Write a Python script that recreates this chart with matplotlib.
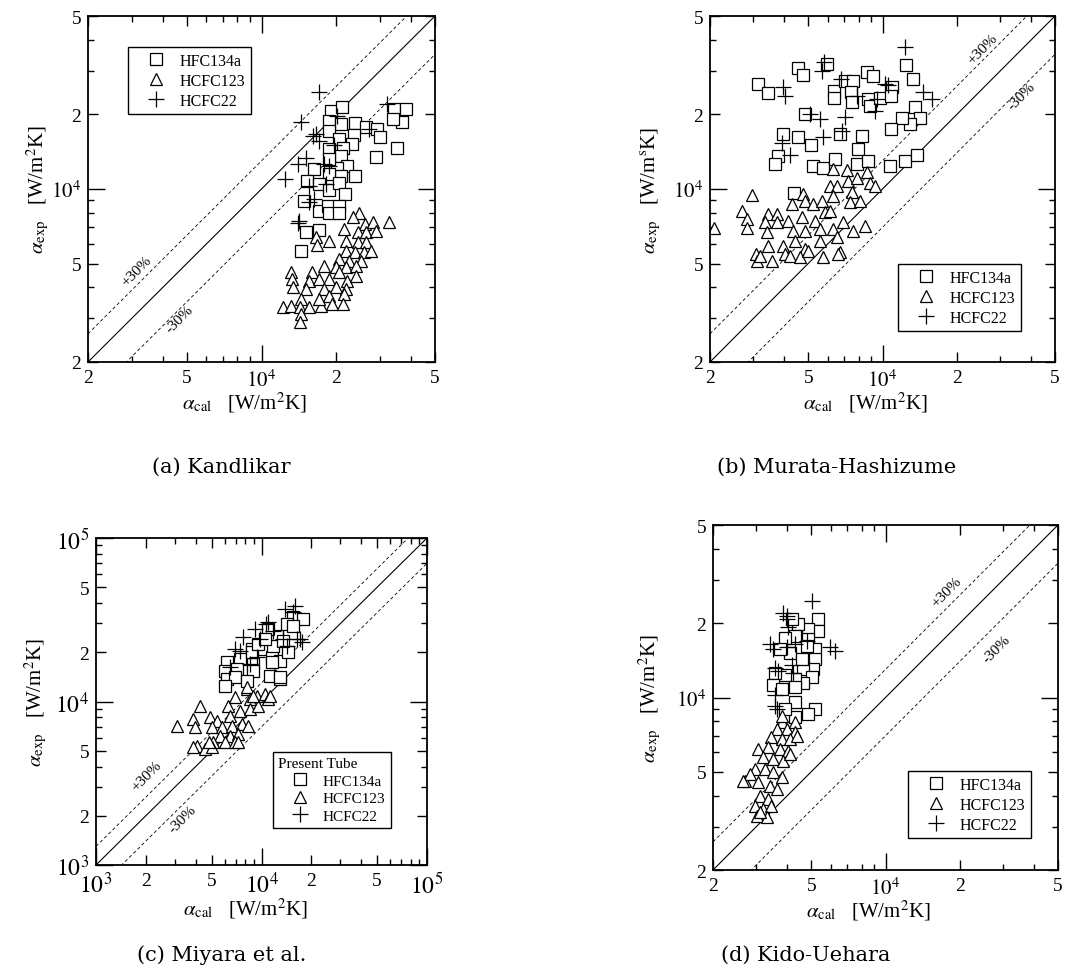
import matplotlib
matplotlib.use("Agg")
import matplotlib.pyplot as plt
from matplotlib.lines import Line2D
from matplotlib.ticker import FixedLocator, FixedFormatter, NullFormatter
import numpy as np

plt.rcParams['font.family'] = ['Liberation Serif', 'DejaVu Serif']
plt.rcParams['mathtext.fontset'] = 'stix'

# ---------------- data (W/m2K) ----------------
series_names = ['HFC134a', 'HCFC123', 'HCFC22']

# (a) Kandlikar
A_hfc134a_cal = [19000, 21100, 18700, 20900, 23800, 26300, 29300, 34200, 38300, 36900, 33900, 29900, 35200, 28900,
                 18700, 20600, 23600, 23200, 21200, 18700, 20900, 22200, 20200, 18700, 16300, 23800, 20900, 18700,
                 15300, 17100, 18700, 20600, 21700, 14900, 17000, 18600, 18700, 20600, 20600, 15100, 17000, 14400]
A_hfc134a_exp = [20700, 21400, 18900, 18300, 18500, 17800, 17500, 21100, 21100, 18700, 19100, 16200, 14700, 13500,
                 17200, 15900, 16500, 15200, 14700, 14500, 13600, 12400, 12200, 13200, 12000, 11300, 11300, 11500,
                 10800, 10500, 9930, 10600, 9550, 8970, 8170, 8560, 8000, 8560, 8000, 6690, 6850, 5640]
A_hcfc123_cal = [24700, 23400, 32700, 26200, 28200, 21500, 24400, 26300, 28900, 16600, 18700, 16700, 22000, 24400,
                 26300, 22000, 23800, 25900, 27600, 20600, 22600, 25100, 17900, 19900, 21900, 24000, 16000, 13200,
                 13300, 13400, 15600, 17100, 18700, 20600, 22200, 24000, 17900, 19900, 21900, 15100, 14400, 18700,
                 21500, 12200, 13200, 14300, 15600, 17400, 19300, 21200, 14400, 14300, 17100]
A_hcfc123_exp = [8000, 7690, 7340, 7220, 7340, 6890, 6690, 6690, 6780, 6380, 6180, 5960, 6180, 6130,
                 6100, 5640, 5550, 5550, 5640, 5210, 5130, 5130, 4900, 4830, 4830, 4900, 4610, 4610,
                 4330, 4010, 4260, 4330, 4330, 4610, 4260, 4470, 3950, 4010, 3950, 3950, 3590, 3710,
                 3770, 3330, 3380, 3330, 3330, 3380, 3430, 3430, 3130, 2890, 3590]
A_hcfc22_cal = [17000, 14400, 16600, 17100, 16100, 20200, 32100, 27100, 19600, 15100, 14000, 17900, 18700, 12400,
                15600, 18200, 16300, 15600, 14200, 14000]
A_hcfc22_exp = [24600, 18600, 16700, 15700, 16300, 19800, 22000, 17500, 15000, 13400, 12600, 12600, 12400, 11000,
                10300, 10500, 9110, 8890, 7450, 7290]

# (b) Murata-Hashizume
B_hfc134a_cal = [3140, 3440, 4530, 4780, 5940, 6380, 6380, 7050, 7620, 7450, 7500, 8630, 9180, 8760, 8900, 9770,
                 10900, 10800, 12400, 13300, 13500, 14200, 12900, 12000, 10800, 4850, 6730, 8240, 7980, 3960, 4560,
                 5130, 3780, 3670, 5240, 5760, 6420, 7860, 8760, 10700, 12300, 13800, 4390]
B_hfc134a_exp = [26600, 24400, 30700, 28900, 32000, 25000, 23300, 27200, 27200, 24700, 22500, 29800, 28700, 23100,
                 21700, 23300, 25800, 23800, 31700, 27800, 21400, 19300, 18300, 19300, 17500, 20100, 16700, 16400,
                 14500, 16700, 16200, 15000, 13600, 12600, 12400, 12200, 13200, 12600, 13000, 12400, 13000, 13700, 9640]
B_hcfc123_cal = [2080, 2950, 2690, 2820, 2820, 3060, 3090, 3440, 3730, 3340, 3730, 4150, 3390, 3440, 3560, 3960,
                 4030, 4220, 4350, 4290, 4780, 4850, 5240, 5670, 6130, 6520, 6320, 4710, 5330, 5850, 6130, 4850,
                 5580, 6320, 6940, 6520, 5580, 4420, 4850, 4630, 5000, 5760, 6730, 7620, 8490, 7160, 7270, 7860,
                 8630, 8900, 9330, 7500, 7380, 8100, 6320, 3190, 6620]
B_hcfc123_exp = [6940, 9460, 8170, 7570, 6940, 5460, 5130, 7930, 7930, 7340, 7340, 7450, 6690, 5900, 5130, 5900,
                 5460, 5380, 6780, 8700, 9550, 8970, 8700, 8970, 10300, 10300, 9400, 7690, 7450, 8050, 8170, 6780,
                 6890, 6890, 7340, 6380, 6180, 6180, 5720, 5300, 5640, 5300, 5550, 6780, 7110, 11900, 10800, 11100,
                 11700, 10600, 10300, 9700, 8830, 8970, 12000, 5380, 5460]
B_hcfc22_cal = [5810, 5670, 6790, 3960, 4030, 7860, 9470, 9330, 10500, 12300, 14600, 15800, 5090, 5580, 7050,
                5760, 6840, 3930, 4220, 10200]
B_hcfc22_exp = [32500, 30100, 27800, 25800, 23800, 23800, 23100, 20700, 26300, 37400, 24600, 23100, 20100, 19200,
                19500, 16200, 17200, 15400, 13700, 26600]

# (c) Miyara et al.
C_hfc134a_cal = [15600, 14200, 12350, 11000, 8730, 10250, 11500, 12900, 8920, 7410, 6160, 6020, 7080, 8920, 6160,
                 6920, 6020, 11250, 12900, 8140, 17700, 15600, 14500, 12900, 11500, 8730, 11800, 9500, 10500, 13500]
C_hfc134a_exp = [32700, 29800, 25300, 27800, 20900, 20900, 18600, 17800, 16900, 18200, 17400, 15400, 15800, 15400,
                 13700, 14100, 12400, 14400, 13700, 13400, 32000, 29100, 20000, 14100, 17400, 20000, 21900, 22500,
                 24000, 23500]
C_hcfc123_cal = [3070, 4250, 3870, 3960, 4890, 5360, 5000, 6300, 6920, 8140, 8520, 9350, 10500, 11000, 6450, 7410,
                 8520, 9570, 5750, 6610, 7590, 8320, 5610, 6450, 7240, 5110, 6020, 6920, 4060, 4560, 5000, 7240,
                 3870, 4800, 11250, 8140, 8920]
C_hcfc123_exp = [7050, 9430, 7820, 6950, 8000, 7630, 6950, 9430, 10600, 11900, 10400, 10850, 11100, 10400, 8190,
                 8790, 9000, 9430, 6950, 7110, 7280, 7110, 6180, 6180, 6330, 5630, 5630, 5630, 5370, 5120, 5250,
                 5630, 5250, 5630, 10850, 12200, 10850]
C_hcfc22_cal = [15600, 15900, 11000, 11800, 7760, 7410, 6920, 9790, 13500, 17100, 17500, 8520, 9350, 6450, 14200,
                9120, 10700, 13900, 16300]
C_hcfc22_exp = [35100, 38500, 30500, 27100, 24700, 20500, 20900, 24100, 24100, 24100, 23000, 16900, 18600, 16200,
                21900, 27800, 29800, 36800, 24100]

# (d) Kido-Uehara
D_hfc134a_cal = [5340, 5340, 4860, 4430, 4170, 4860, 4300, 3910, 5180, 4790, 5180, 5100, 4640, 5020, 4640, 4300,
                 3910, 3570, 3510, 3790, 4300, 4300, 5180, 4860, 4300, 3910, 4100, 3740, 4580]
D_hfc134a_exp = [20800, 18600, 18900, 19900, 20800, 17300, 17800, 17500, 15700, 16200, 14300, 13000, 13000, 12100,
                 11500, 11900, 12300, 12600, 11200, 10800, 11000, 9560, 8980, 8570, 8310, 8980, 15200, 15700, 14300]
D_hcfc123_cal = [3790, 3620, 3980, 4300, 4300, 3450, 3790, 4100, 3050, 3350, 3740, 4040, 3200, 3510, 3850, 2960,
                 3250, 3510, 3790, 2700, 2830, 3050, 3400, 3620, 3100, 3350, 2960, 3200, 3450, 3010, 3300, 4370,
                 3790, 4100, 2650, 3100]
D_hcfc123_exp = [7940, 7450, 7450, 7940, 7230, 6900, 6790, 6790, 6180, 6280, 6180, 6090, 5720, 5640, 5550, 5130,
                 5130, 4980, 4750, 4600, 4900, 4530, 4390, 4260, 4000, 3880, 3650, 3530, 3650, 3320, 3270, 7000,
                 8440, 5900, 4600, 3420]
D_hcfc22_cal = [5020, 3850, 3980, 4040, 3400, 3510, 3980, 4300, 4790, 5960, 6240, 3570, 3680, 4170, 4230, 3570,
                3570, 3620, 3980]
D_hcfc22_exp = [24700, 22100, 20800, 19300, 16500, 15700, 16000, 16500, 17000, 16000, 15500, 13200, 12800, 13500,
                12600, 10200, 9270, 8980, 21400]

captions = ['(a) Kandlikar', '(b) Murata-Hashizume', '(c) Miyara et al.', '(d) Kido-Uehara']

lim_small = (2e3, 5e4)
major_small = [2e3, 5e3, 1e4, 2e4, 5e4]
labels_small = ['2', '5', r'$10^4$', '2', '5']
minor_small = [3e3, 4e3, 6e3, 7e3, 8e3, 9e3, 3e4, 4e4]

lim_wide = (1e3, 1e5)
major_wide = [1e3, 2e3, 5e3, 1e4, 2e4, 5e4, 1e5]
labels_wide = [r'$10^3$', '2', '5', r'$10^4$', '2', '5', r'$10^5$']
minor_wide = [3e3, 4e3, 6e3, 7e3, 8e3, 9e3, 3e4, 4e4, 6e4, 7e4, 8e4, 9e4]
decades = [1e3, 1e4, 1e5]

# ---------------- figure ----------------
W, H = 1066, 978
fig = plt.figure(figsize=(W / 100, H / 100), dpi=100)


def add_axes_px(l, t, r, b):
    return fig.add_axes([l / W, 1 - b / H, (r - l) / W, (b - t) / H])


def setup(ax, lim, major, labels, minor, dec_size):
    ax.set_xscale('log')
    ax.set_yscale('log')
    ax.set_xlim(lim)
    ax.set_ylim(lim)
    for axis in (ax.xaxis, ax.yaxis):
        axis.set_major_locator(FixedLocator(major))
        axis.set_major_formatter(FixedFormatter(labels))
        axis.set_minor_locator(FixedLocator(minor))
        axis.set_minor_formatter(NullFormatter())
    ax.tick_params(which='both', direction='in', top=True, right=True, width=1.0)
    ax.tick_params(which='major', length=7, labelsize=14, pad=5)
    ax.tick_params(which='minor', length=4)
    for axis in (ax.xaxis, ax.yaxis):
        for tk, v in zip(axis.get_major_ticks(), major):
            if v in decades:
                tk.tick1line.set_markersize(12)
                tk.tick2line.set_markersize(12)
                tk.label1.set_fontsize(dec_size)
    for s in ax.spines.values():
        s.set_linewidth(1.3)
    x = np.array(lim)
    ax.plot(x, x, color='k', lw=0.8)
    ax.plot(x, 1.3 * x, color='k', lw=0.6, dashes=(4, 3))
    ax.plot(x, 0.7 * x, color='k', lw=0.6, dashes=(4, 3))


mk = dict(ls='none', mfc='white', mec='k', mew=0.9)
sq = dict(marker='s', ms=8, **mk)
tr = dict(marker='^', ms=9, **mk)
cr = dict(marker='+', ms=11, ls='none', color='k', mew=0.9)


def scatter(ax, d):
    ax.plot(d[0], d[1], **sq)
    ax.plot(d[2], d[3], **tr)
    ax.plot(d[4], d[5], **cr)


def legend(ax, anchor, title=None, fs=11.5):
    handles = [Line2D([], [], **sq), Line2D([], [], **tr), Line2D([], [], **cr)]
    kw = dict(loc='upper left', bbox_to_anchor=anchor, borderaxespad=0, frameon=True, fancybox=False,
              edgecolor='k', framealpha=1, fontsize=fs, handlelength=2.8, handletextpad=0.1,
              borderpad=0.35, labelspacing=0.25, numpoints=1)
    if title:
        kw.update(title=title, title_fontsize=fs, alignment='left')
    lg = ax.legend(handles, series_names, **kw)
    lg.get_frame().set_linewidth(1.0)


ylab = r'$\alpha_{\rm exp}$   [W/m$^2$K]'
xlab = r'$\alpha_{\rm cal}$   [W/m$^2$K]'

# (a)
axa = add_axes_px(88, 17, 435, 363)
setup(axa, lim_small, major_small, labels_small, minor_small, 15)
scatter(axa, [A_hfc134a_cal, A_hfc134a_exp, A_hcfc123_cal, A_hcfc123_exp, A_hcfc22_cal, A_hcfc22_exp])
legend(axa, (0.115, 0.910))
axa.text(0.141, 0.263, '+30%', transform=axa.transAxes, rotation=45, ha='center', va='center', fontsize=11)
axa.text(0.265, 0.124, '-30%', transform=axa.transAxes, rotation=45, ha='center', va='center', fontsize=11)
axa.set_ylabel(ylab, fontsize=15)
axa.yaxis.set_label_coords(-0.145, 0.5)

# (b)
axb = add_axes_px(710, 17, 1055, 363)
setup(axb, lim_small, major_small, labels_small, minor_small, 15)
scatter(axb, [B_hfc134a_cal, B_hfc134a_exp, B_hcfc123_cal, B_hcfc123_exp, B_hcfc22_cal, B_hcfc22_exp])
legend(axb, (0.545, 0.283))
axb.text(0.791, 0.905, '+30%', transform=axb.transAxes, rotation=45, ha='center', va='center', fontsize=11)
axb.text(0.904, 0.769, '-30%', transform=axb.transAxes, rotation=45, ha='center', va='center', fontsize=11)
axb.set_ylabel(r'$\alpha_{\rm exp}$   [W/m$^{\rm s}$K]', fontsize=15)
axb.yaxis.set_label_coords(-0.171, 0.5)

# (c)
axc = add_axes_px(96, 539, 427, 866)
setup(axc, lim_wide, major_wide, labels_wide, minor_wide, 17)
scatter(axc, [C_hfc134a_cal, C_hfc134a_exp, C_hcfc123_cal, C_hcfc123_exp, C_hcfc22_cal, C_hcfc22_exp])
legend(axc, (0.535, 0.346), title='Present Tube', fs=11)
axc.text(0.154, 0.272, '+30%', transform=axc.transAxes, rotation=45, ha='center', va='center', fontsize=11)
axc.text(0.263, 0.141, '-30%', transform=axc.transAxes, rotation=45, ha='center', va='center', fontsize=11)
axc.set_ylabel(ylab, fontsize=15)
axc.yaxis.set_label_coords(-0.181, 0.5)

# (d)
axd = add_axes_px(713, 526, 1058, 871)
setup(axd, lim_small, major_small, labels_small, minor_small, 15)
scatter(axd, [D_hfc134a_cal, D_hfc134a_exp, D_hcfc123_cal, D_hcfc123_exp, D_hcfc22_cal, D_hcfc22_exp])
legend(axd, (0.565, 0.287))
axd.text(0.678, 0.806, '+30%', transform=axd.transAxes, rotation=45, ha='center', va='center', fontsize=11)
axd.text(0.823, 0.641, '-30%', transform=axd.transAxes, rotation=45, ha='center', va='center', fontsize=11)
axd.set_ylabel(ylab, fontsize=15)
axd.yaxis.set_label_coords(-0.183, 0.5)

for ax in (axa, axb, axc, axd):
    ax.yaxis.label.set_va('center')
    ax.set_xlabel(xlab, fontsize=15)
    ax.xaxis.label.set_va('center')
    lab_y = -0.132 if ax is axc else -0.115
    ax.xaxis.set_label_coords(0.45, lab_y)

# captions
cap_pos = [(152, 467), (717, 467), (137, 955), (721, 955)]
for (px, py), txt in zip(cap_pos, captions):
    fig.text(px / W, 1 - py / H, txt, ha='left', va='center', fontsize=15, family='DejaVu Serif')

fig.savefig('out.png', dpi=100)
